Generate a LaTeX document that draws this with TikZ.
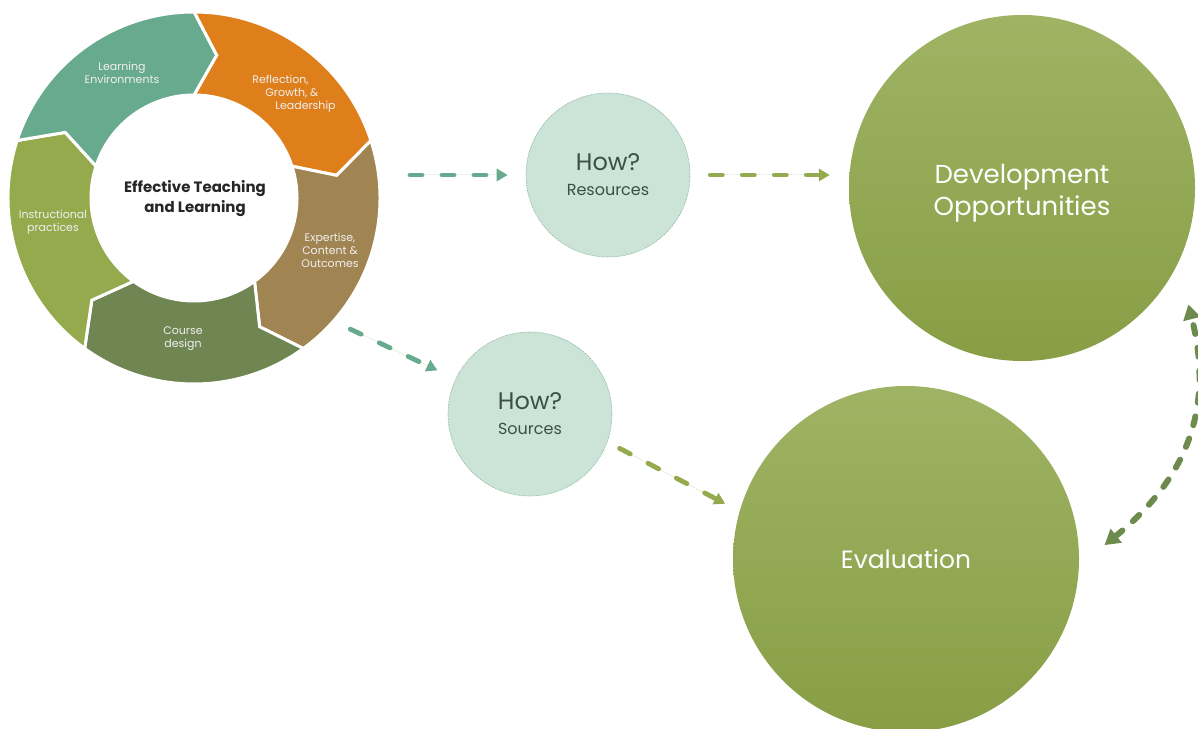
\documentclass[tikz,border=0pt]{standalone}
\usepackage{fontspec}
\setmainfont{Poppins}
\usetikzlibrary{arrows.meta,calc}
\definecolor{segteal}{HTML}{68AA8E}
\definecolor{segorange}{HTML}{DF7F1C}
\definecolor{segbrown}{HTML}{A08451}
\definecolor{segdkgreen}{HTML}{6F8652}
\definecolor{segolive}{HTML}{94AA4C}
\definecolor{mintfill}{HTML}{CCE3D8}
\definecolor{mintline}{HTML}{8DB8A6}
\definecolor{howtext}{HTML}{3A4F47}
\definecolor{bigtop}{HTML}{9FB364}
\definecolor{bigbot}{HTML}{879E45}
\definecolor{arrteal}{HTML}{68AA8E}
\definecolor{arrolive}{HTML}{94AA4C}
\definecolor{arrdark}{HTML}{6E8B4E}
\definecolor{centertext}{HTML}{262626}
\tikzset{
  segshape/.style={draw=white, line width=3pt, line join=miter},
  segtext/.style={text=white!94!black, align=center, font=\fontsize{11}{13}\selectfont, inner sep=0pt},
  howcircle/.style={circle, fill=mintfill, draw=mintline, line width=0.6pt, dash pattern=on 1.5pt off 1pt, minimum size=164pt, inner sep=0pt, text=howtext, align=center, font=\fontsize{16}{25}\selectfont},
  bigcircle/.style={circle, top color=bigtop, bottom color=bigbot, minimum size=346pt, inner sep=0pt, text=white, align=center},
  bigtext/.style={text=white, align=center, inner sep=0pt},
  dasharrow/.style={line width=4.8pt, line cap=round, dash pattern=on 12pt off 20pt, -{Triangle[length=11pt,width=12pt]}},
  tealarrow/.style={dasharrow, draw=arrteal, fill=arrteal},
  olivearrow/.style={dasharrow, draw=arrolive, fill=arrolive},
  looparrow/.style={line width=6pt, line cap=round, dash pattern=on 9pt off 14pt, draw=arrdark, {Triangle[length=15pt,width=17pt]}-{Triangle[length=15pt,width=17pt]}}
}
\newcommand{\cycseg}[3]{% start angle, end angle, colour
  \fill[#3, segshape] (#1:186) arc[start angle=#1, end angle=#2, radius=186]
    -- (#2-9:144.5) -- (#2:103) arc[start angle=#2, end angle=#1, radius=103]
    -- (#1-9:144.5) -- cycle;}
\begin{document}
\begin{tikzpicture}[x=1pt,y=1pt]
\clip (0,0) rectangle (1198,728);
\fill[white] (0,0) rectangle (1198,728);

% cycle
\coordinate (cyc) at (194,530);
\begin{scope}[shift={(cyc)}]
  \cycseg{90}{18}{segorange}
  \cycseg{18}{-54}{segbrown}
  \cycseg{-54}{-126}{segdkgreen}
  \cycseg{-126}{-198}{segolive}
  \cycseg{162}{90}{segteal}
\end{scope}
\node[segtext] (le) at (122,655) {Learning\\Environments};
\node[segtext, align=left] (refl) at (294,634) {Reflection,\\\hspace*{13pt}Growth, \&\\\hspace*{23pt}Leadership};
\node[segtext] (expt) at (330,478) {Expertise,\\Content \&\\Outcomes};
\node[segtext] (course) at (183,389) {Course\\design};
\node[segtext] (instr) at (53,506) {Instructional\\practices};
\node[text=centertext, align=center, font=\bfseries\fontsize{15}{20}\selectfont] (ctr) at (195,529) {Effective Teaching\\and Learning};

% how circles
\node[howcircle] (res) at (608,553) {{\fontsize{24}{25}\selectfont How?}\\Resources};
\node[howcircle] (src) at (530,314) {{\fontsize{24}{25}\selectfont How?}\\Sources};

% big circles
\node[bigcircle] (dev) at (1022,540) {};
\node[bigtext, font=\fontsize{26}{32}\selectfont] (devtext) at ($(dev)+(0,-5)$) {Development\\Opportunities};
\node[bigcircle, font=\fontsize{25}{32}\selectfont] (ev) at (906,169) {Evaluation};

% connectors
\coordinate (a1s) at ($(cyc)+(216,23)$);
\draw[tealarrow] (a1s) -- ($(res.west)+(-18,0)$);
\draw[olivearrow] ($(res.east)+(20,0)$) -- ($(dev.west |- res.east)+(-19,0)$);
\coordinate (a3s) at ($(cyc)+(-40:204)$);
\draw[tealarrow, shorten >=20pt] (a3s) -- (src);
\coordinate (a4s) at ($(src)+(-21:96)$);
\coordinate (a4e) at ($(ev)+(163:189)$);
\draw[olivearrow] (a4s) -- (a4e);
\coordinate (a5s) at ($(ev)+(4:199)$);
\coordinate (a5e) at ($(dev)+(-35:203)$);
\draw[looparrow] (a5s) .. controls (1185,248) and (1215,318) .. (a5e);
\end{tikzpicture}
\end{document}
